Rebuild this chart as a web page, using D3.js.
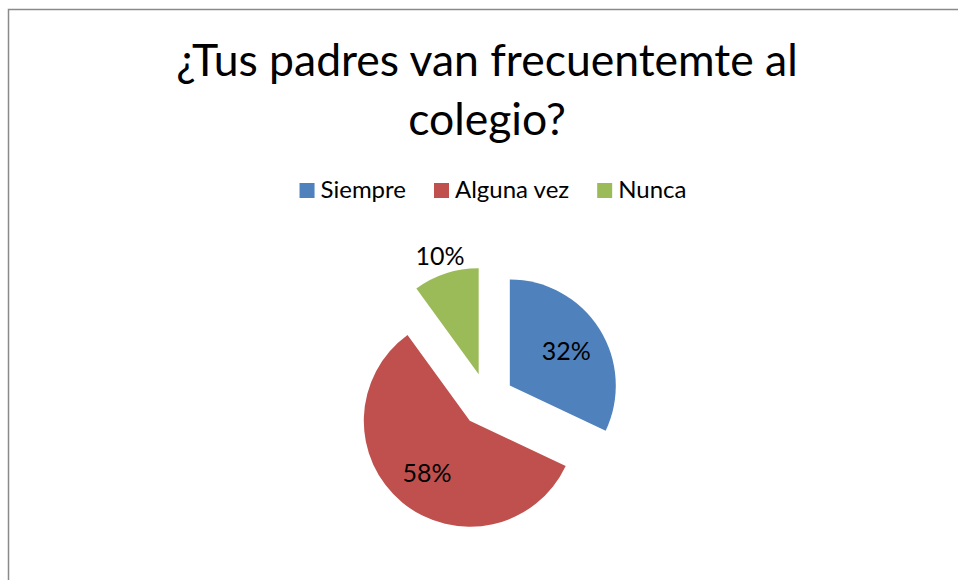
<!DOCTYPE html>
<html>
<head>
<meta charset="utf-8">
<script src="https://cdn.jsdelivr.net/npm/d3@7"></script>
<style>
  html, body { margin: 0; padding: 0; background: #fff; }
  svg { display: block; font-family: Lato, "Open Sans", sans-serif; }
</style>
</head>
<body>
<svg id="chart"></svg>
<script>
'use strict';

const WIDTH = 958;
const HEIGHT = 580;

// data
const TITLE_LINES = ['¿Tus padres van frecuentemte al', 'colegio?'];
const CATEGORIES = ['Siempre', 'Alguna vez', 'Nunca'];
const VALUES = [32, 58, 10];
const COLORS = ['#4F81BD', '#C0504D', '#9BBB59'];

// layout
const CX = 487;
const CY = 400;
const R = 106;
const EXPLODE = 27;
const LABEL_R = [67, 67, 125];
const LEGEND_Y = 183;
const LEGEND_CENTER = 493;
const SWATCH = 15;
const ITEM_GAP = 28;

const svg = d3.select('#chart')
  .attr('width', WIDTH)
  .attr('height', HEIGHT)
  .attr('viewBox', `0 0 ${WIDTH} ${HEIGHT}`);

// chart frame
svg.append('rect')
  .attr('x', 8.5).attr('y', 9.5)
  .attr('width', WIDTH).attr('height', HEIGHT)
  .attr('fill', 'none')
  .attr('stroke', '#8a8a8a').attr('stroke-width', 1.5);

// title
const title = svg.append('text')
  .attr('text-anchor', 'middle')
  .attr('font-size', 44.5)
  .attr('fill', '#000');
TITLE_LINES.forEach((line, i) => {
  title.append('tspan')
    .attr('x', CX)
    .attr('y', 76 + i * 59)
    .text(line);
});

const color = d3.scaleOrdinal().domain(CATEGORIES).range(COLORS);

// legend: items laid out one after another, then centred
const legend = svg.append('g').attr('class', 'legend');
let cursor = 0;
CATEGORIES.forEach(cat => {
  const g = legend.append('g').attr('transform', `translate(${cursor},0)`);
  g.append('rect')
    .attr('width', SWATCH).attr('height', SWATCH)
    .attr('fill', color(cat));
  const t = g.append('text')
    .attr('x', 21).attr('y', 15)
    .attr('font-size', 24)
    .attr('fill', '#000')
    .text(cat);
  cursor += 21 + t.node().getComputedTextLength() + ITEM_GAP;
});
const legendW = cursor - ITEM_GAP;
legend.attr('transform', `translate(${LEGEND_CENTER - legendW / 2},${LEGEND_Y})`);

// pie
const pie = d3.pie().sort(null).value(d => d.value);
const arcs = pie(CATEGORIES.map((c, i) => ({ cat: c, value: VALUES[i], idx: i })));
const arc = d3.arc().innerRadius(0).outerRadius(R);
const total = d3.sum(VALUES);

const pieG = svg.append('g').attr('transform', `translate(${CX},${CY})`);

arcs.forEach(a => {
  const mid = (a.startAngle + a.endAngle) / 2;
  const dx = EXPLODE * Math.sin(mid);
  const dy = -EXPLODE * Math.cos(mid);
  const g = pieG.append('g').attr('transform', `translate(${dx},${dy})`);

  g.append('path')
    .attr('d', arc(a))
    .attr('fill', color(a.data.cat));

  const lr = LABEL_R[a.data.idx];
  g.append('text')
    .attr('x', lr * Math.sin(mid))
    .attr('y', -lr * Math.cos(mid))
    .attr('text-anchor', 'middle')
    .attr('dominant-baseline', 'central')
    .attr('font-size', 25)
    .attr('fill', '#000')
    .text(d3.format('.0%')(a.data.value / total));
});
</script>
</body>
</html>
